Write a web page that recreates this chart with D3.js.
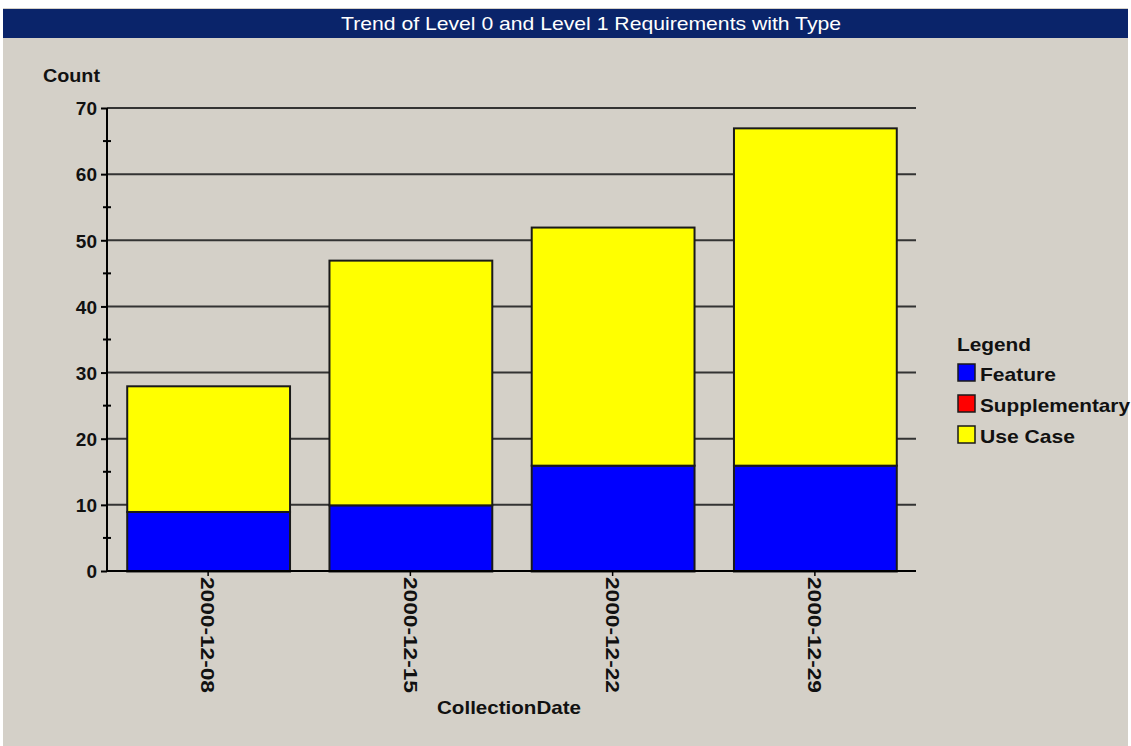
<!DOCTYPE html>
<html>
<head>
<meta charset="utf-8">
<script src="https://cdn.jsdelivr.net/npm/d3@7"></script>
<style>
  html, body { margin: 0; padding: 0; background: #ffffff; }
  svg { display: block; }
  text { font-family: "Liberation Sans", Arial, sans-serif; }
</style>
</head>
<body>
<svg id="chart" width="1131" height="746"></svg>
<script>
// Requirement counts per collection date, split by type
const dates = ["2000-12-08", "2000-12-15", "2000-12-22", "2000-12-29"];
const seriesNames = ["Feature", "Supplementary", "Use Case"];
const featureCounts = [9, 10, 16, 16];
const supplementaryCounts = [0, 0, 0, 0];
const useCaseCounts = [19, 37, 36, 51];
const yTicks = [0, 10, 20, 30, 40, 50, 60, 70];
const colors = ["#0000ff", "#ff0000", "#ffff00"];

const rows = dates.map((d, i) => ({
  date: d,
  "Feature": featureCounts[i],
  "Supplementary": supplementaryCounts[i],
  "Use Case": useCaseCounts[i]
}));

const svg = d3.select("#chart");
const W = 1131, H = 746;
const labelFont = "19px";

// panel background and title bar
svg.append("rect").attr("x", 3).attr("y", 8).attr("width", W - 6).attr("height", H - 8)
  .attr("fill", "#d4d0c8");
svg.append("rect").attr("x", 3).attr("y", 9).attr("width", W - 6).attr("height", 29)
  .attr("fill", "#0a246a");
svg.append("text").attr("x", 591).attr("y", 30)
  .attr("text-anchor", "middle").attr("fill", "#ffffff")
  .style("font-family", "'Liberation Sans Narrow', 'Liberation Sans', sans-serif")
  .style("font-size", "19px")
  .attr("textLength", 500).attr("lengthAdjust", "spacingAndGlyphs")
  .text("Trend of Level 0 and Level 1 Requirements with Type");

const plot = { left: 107, right: 916, top: 108, bottom: 571 };

const x = d3.scaleBand().domain(dates).range([plot.left, plot.right])
  .paddingInner(0.195).paddingOuter(0.0975);
const y = d3.scaleLinear().domain([0, 70]).range([plot.bottom, plot.top]);

// horizontal grid lines
svg.append("g").selectAll("line").data(yTicks.filter(v => v > 0)).join("line")
  .attr("x1", plot.left).attr("x2", plot.right)
  .attr("y1", d => y(d)).attr("y2", d => y(d))
  .attr("stroke", "#333333").attr("stroke-width", 2);

// stacked bars
const stack = d3.stack().keys(seriesNames)(rows);
const barG = svg.append("g");
stack.forEach((layer, si) => {
  barG.selectAll(null).data(layer.filter(d => d[1] > d[0])).join("rect")
    .attr("x", d => x(d.data.date) + 0.5)
    .attr("width", x.bandwidth())
    .attr("y", d => y(d[1]) + 0.5)
    .attr("height", d => y(d[0]) - y(d[1]))
    .attr("fill", colors[si])
    .attr("stroke", "#1a1a1a").attr("stroke-width", 2);
});

// y axis
const yAxis = d3.axisLeft(y).tickValues(yTicks).tickSize(6).tickPadding(4)
  .tickFormat(d3.format("d"));
const yg = svg.append("g").attr("transform", `translate(${plot.left},0)`).call(yAxis);
yg.select(".domain").remove();
yg.selectAll(".tick line").attr("stroke", "#000").attr("stroke-width", 2);
yg.selectAll(".tick text").attr("fill", "#111").style("font-size", labelFont).style("font-weight", "bold")
  .attr("dy", "0.36em");
// minor ticks crossing the axis
svg.append("g").selectAll("line").data([5, 15, 25, 35, 45, 55, 65]).join("line")
  .attr("x1", plot.left - 4).attr("x2", plot.left + 4)
  .attr("y1", d => y(d)).attr("y2", d => y(d))
  .attr("stroke", "#000").attr("stroke-width", 2);
svg.append("line").attr("x1", plot.left).attr("x2", plot.left)
  .attr("y1", plot.top).attr("y2", plot.bottom + 1)
  .attr("stroke", "#000").attr("stroke-width", 2);

// x axis
const xg = svg.append("g").attr("transform", `translate(0,${plot.bottom})`)
  .call(d3.axisBottom(x).tickSize(5).tickPadding(6));
xg.select(".domain").remove();
xg.selectAll(".tick line").attr("stroke", "#000").attr("stroke-width", 1.5);
xg.selectAll(".tick text")
  .attr("fill", "#111").style("font-size", labelFont).style("font-weight", "bold")
  .attr("text-anchor", "start")
  .attr("transform", "rotate(90)")
  .attr("x", 6).attr("y", 0).attr("dy", "0.36em")
  .attr("textLength", 116).attr("lengthAdjust", "spacingAndGlyphs");
svg.append("line").attr("x1", plot.left).attr("x2", plot.right)
  .attr("y1", plot.bottom).attr("y2", plot.bottom)
  .attr("stroke", "#000").attr("stroke-width", 2);

// axis titles
svg.append("text").attr("x", 43).attr("y", 82)
  .style("font-size", labelFont).style("font-weight", "bold").attr("fill", "#111")
  .attr("textLength", 57).attr("lengthAdjust", "spacingAndGlyphs")
  .text("Count");
svg.append("text").attr("x", 437).attr("y", 714)
  .style("font-size", labelFont).style("font-weight", "bold").attr("fill", "#111")
  .attr("textLength", 144).attr("lengthAdjust", "spacingAndGlyphs")
  .text("CollectionDate");

// legend
const legendWidths = [76, 150, 95];
const lg = svg.append("g").attr("transform", "translate(957,351)");
lg.append("text").attr("x", 0).attr("y", 0)
  .style("font-size", labelFont).style("font-weight", "bold").attr("fill", "#111")
  .attr("textLength", 74).attr("lengthAdjust", "spacingAndGlyphs")
  .text("Legend");
seriesNames.forEach((name, i) => {
  const row = lg.append("g").attr("transform", `translate(0,${12 + i * 31})`);
  row.append("rect").attr("x", 1).attr("y", 1).attr("width", 17).attr("height", 17)
    .attr("fill", colors[i]).attr("stroke", "#1a1a1a").attr("stroke-width", 1.5);
  row.append("text").attr("x", 23).attr("y", 18)
    .style("font-size", labelFont).style("font-weight", "bold").attr("fill", "#111")
    .attr("textLength", legendWidths[i]).attr("lengthAdjust", "spacingAndGlyphs")
    .text(name);
});
</script>
</body>
</html>
